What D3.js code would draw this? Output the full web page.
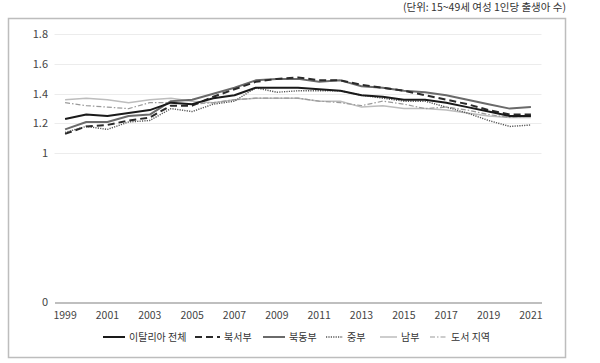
<!DOCTYPE html>
<html><head><meta charset="utf-8">
<script src="https://cdn.jsdelivr.net/npm/d3@7"></script>
<style>
body{margin:0;background:#fff;}
svg{display:block;font-family:"Noto Sans CJK KR","Noto Sans",sans-serif;}
</style></head><body>
<svg id="c" width="600" height="363"></svg>
<script>
const years = d3.range(1999, 2022).map(String);
const xTickLabels = ["1999","2001","2003","2005","2007","2009","2011","2013","2015","2017","2019","2021"];
const gridTicks = [1, 1.2, 1.4, 1.6, 1.8];
const yLabelTicks = [0, 1, 1.2, 1.4, 1.6, 1.8];
const seriesNames = ["이탈리아 전체", "북서부", "북동부", "중부", "남부", "도서 지역"];
const italy     = [1.23,1.26,1.25,1.27,1.29,1.34,1.33,1.37,1.39,1.44,1.44,1.44,1.43,1.42,1.39,1.38,1.36,1.36,1.34,1.31,1.28,1.25,1.25];
const northwest = [1.13,1.18,1.19,1.22,1.24,1.32,1.32,1.38,1.43,1.48,1.50,1.51,1.49,1.49,1.46,1.44,1.42,1.39,1.36,1.33,1.29,1.26,1.26];
const northeast = [1.16,1.21,1.21,1.25,1.26,1.35,1.36,1.40,1.44,1.49,1.50,1.50,1.48,1.49,1.45,1.44,1.42,1.41,1.39,1.36,1.33,1.30,1.31];
const center    = [1.14,1.18,1.16,1.21,1.22,1.30,1.28,1.33,1.35,1.44,1.41,1.42,1.42,1.42,1.39,1.37,1.35,1.35,1.31,1.27,1.22,1.18,1.19];
const south     = [1.36,1.37,1.36,1.34,1.36,1.37,1.35,1.34,1.36,1.37,1.37,1.37,1.35,1.35,1.31,1.32,1.30,1.30,1.29,1.27,1.25,1.24,1.24];
const islands   = [1.34,1.32,1.31,1.30,1.34,1.34,1.33,1.34,1.36,1.37,1.37,1.37,1.35,1.34,1.32,1.35,1.33,1.30,1.31,1.29,1.26,1.24,1.25];
const seriesValues = [italy, northwest, northeast, center, south, islands];
const styles = [
  {color:"#1a1a1a", width:2, dash:null},
  {color:"#2a2a2a", width:2, dash:"7,4"},
  {color:"#6a6a6a", width:2, dash:null},
  {color:"#555", width:1.4, dash:"1.2,1.2"},
  {color:"#bdbdbd", width:1.5, dash:null},
  {color:"#9a9a9a", width:1.2, dash:"5,2,1.5,2"}
];

const svg = d3.select("#c");
svg.append("rect").attr("x",8.5).attr("y",18.5).attr("width",557).attr("height",339)
  .attr("fill","none").attr("stroke","#bdbdbd").attr("stroke-width",1.5);
svg.append("text").attr("x",566).attr("y",11).attr("text-anchor","end")
  .attr("font-size",10.5).attr("fill","#333").text("(단위: 15~49세 여성 1인당 출생아 수)");

const x = d3.scaleBand().domain(years).range([54.5, 541.5]);
const y = d3.scaleLinear().domain([0, 1.8]).range([301.8, 34.3]);

svg.append("g").selectAll("line").data(gridTicks).join("line")
  .attr("x1",54.5).attr("x2",541.5).attr("y1",d=>Math.round(y(d))+0.5).attr("y2",d=>Math.round(y(d))+0.5)
  .attr("stroke","#ececec").attr("stroke-width",1);

const yAxis = d3.axisLeft(y).tickValues(yLabelTicks).tickSize(0).tickPadding(0).tickFormat(d3.format("~g"));
const gy = svg.append("g").attr("transform","translate(48,0)").call(yAxis);
gy.select(".domain").remove();
gy.selectAll("text").attr("font-size",11).attr("fill","#444").attr("font-family","\"Noto Sans CJK KR\",sans-serif");

const xAxis = d3.axisBottom(x).tickValues(xTickLabels).tickSize(0).tickPadding(9);
const gx = svg.append("g").attr("transform",`translate(0,${Math.round(y(0))+0.5})`).call(xAxis);
gx.select(".domain").attr("stroke","#aaa").attr("stroke-width",1.5);
gx.selectAll("text").attr("font-size",10.5).attr("fill","#444").attr("font-family","\"Noto Sans CJK KR\",sans-serif");

const line = d3.line().x((d,i)=>x(years[i])+x.bandwidth()/2).y(d=>y(d));
const order = [4,5,3,2,1,0];
order.forEach(k=>{
  svg.append("path").datum(seriesValues[k]).attr("d",line).attr("fill","none")
    .attr("stroke",styles[k].color).attr("stroke-width",styles[k].width)
    .attr("stroke-dasharray",styles[k].dash).attr("stroke-linejoin","round");
});

const legX = [103, 195, 263, 326, 380, 430];
const legLen = [22, 25, 22, 17, 17, 17];
const lg = svg.append("g").attr("transform","translate(0,337)");
seriesNames.forEach((n,k)=>{
  lg.append("line").attr("x1",legX[k]).attr("x2",legX[k]+legLen[k]).attr("y1",0).attr("y2",0)
    .attr("stroke",styles[k].color).attr("stroke-width",styles[k].width).attr("stroke-dasharray",styles[k].dash);
  lg.append("text").attr("x",legX[k]+legLen[k]+4).attr("y",3.5).attr("font-size",10).attr("fill","#333").text(n);
});
</script>
</body></html>
